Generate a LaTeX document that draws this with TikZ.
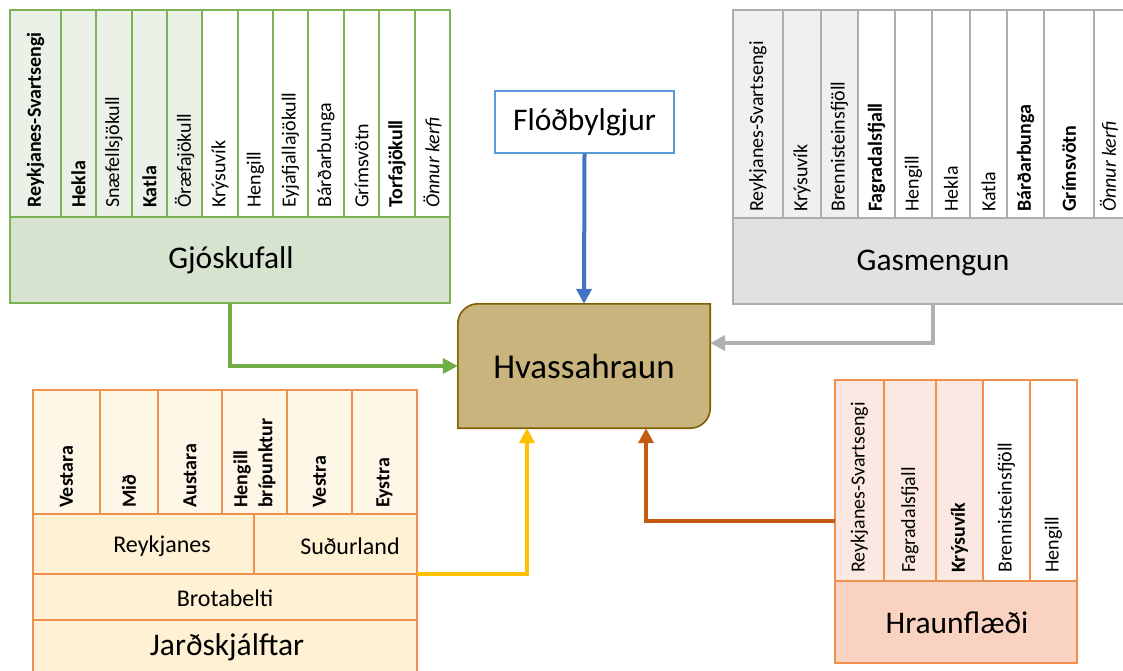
\documentclass[tikz,border=0pt]{standalone}
\usepackage{fontspec}
\setmainfont{Carlito}
\usetikzlibrary{arrows.meta}
\definecolor{gline}{HTML}{7DB356}
\definecolor{gcol}{HTML}{EBF1E7}
\definecolor{gbot}{HTML}{D6E4CF}
\definecolor{garrow}{HTML}{70AD47}
\definecolor{sline}{HTML}{ADADAD}
\definecolor{scol}{HTML}{F0F0F0}
\definecolor{sbot}{HTML}{E1E1E1}
\definecolor{sarrow}{HTML}{B0B0B0}
\definecolor{oline}{HTML}{F0904F}
\definecolor{jtop}{HTML}{FEF6E7}
\definecolor{jlow}{HTML}{FFF1D3}
\definecolor{hcol}{HTML}{FCE8E2}
\definecolor{hbot}{HTML}{F9D2C2}
\definecolor{yarrow}{HTML}{FFC000}
\definecolor{oarrow}{HTML}{C55A11}
\definecolor{hvfill}{HTML}{C9B47E}
\definecolor{hvline}{HTML}{7F6000}
\definecolor{bline}{HTML}{5B9BD5}
\definecolor{barrow}{HTML}{4472C4}
\newcommand\colfont{\fontsize{20}{25}\selectfont}
\newcommand\midfont{\fontsize{24}{28}\selectfont}
\newcommand\bigfont{\fontsize{31.5}{36}\selectfont}
\newcommand\cellbox[6]{\node[cellst,#6,minimum width={#4-#2},minimum height={#5-#3}] (#1) at (#2,#3) {};}
\begin{document}
\begin{tikzpicture}[x=1pt,y=-1pt,
  cellst/.style={draw,line width=1.4pt,inner sep=0pt,outer sep=0pt,anchor=north west},
  vlab/.style={rotate=90,anchor=west,inner sep=0pt},
  bigtxt/.style={font=\bigfont,inner sep=0pt},
  midtxt/.style={font=\midfont,inner sep=0pt},
  arr/.style={line width=4pt,-{Triangle[length=15pt,width=15pt]}}]
\clip (0,0) rectangle (1123,670);
\fill[white] (0,0) rectangle (1123,670);
% ---------- Gjoskufall
\foreach \xa/\xb/\fc/\st/\tx [count=\i] in {
10/61/gcol/\bfseries/Reykjanes-Svartsengi,
61/96/gcol/\bfseries/Hekla,
96/132/gcol//Snæfellsjökull,
132/167/gcol/\bfseries/Katla,
167/202/gcol//Öræfajökull,
202/238/white//Krýsuvík,
238/273/white//Hengill,
273/308/white//Eyjafjallajökull,
308/344/white//Bárðarbunga,
344/379/white//Grímsvötn,
379/415/white/\bfseries/Torfajökull,
415/450/white/\itshape/Önnur kerfi}
{\cellbox{gc\i}{\xa}{10}{\xb}{217}{draw=gline,fill=\fc}
 \node[vlab,font=\colfont\st] (gt\i) at ({(\xa+\xb)/2},208) {\tx};}
\cellbox{gb}{10}{217}{450}{303}{draw=gline,fill=gbot}
\node[bigtxt] (gjo) at (231,260) {Gjóskufall};
% ---------- Gasmengun
\foreach \xa/\xb/\xc/\fc/\st/\tx [count=\i] in {
733/783/758/scol//Reykjanes-Svartsengi,
783/821/802/scol//Krýsuvík,
821/858/839.5/scol//Brennisteinsfjöll,
858/895/876.5/white/\bfseries/Fagradalsfjall,
895/932/913.5/white//Hengill,
932/970/951/white//Hekla,
970/1007/988.5/white//Katla,
1007/1044/1025.5/white/\bfseries/Bárðarbunga,
1044/1094/1069/white/\bfseries/Grímsvötn,
1094/1133/1109/white/\itshape/Önnur kerfi}
{\cellbox{sc\i}{\xa}{10}{\xb}{218}{draw=sline,fill=\fc}
 \node[vlab,font=\colfont\st] (st\i) at (\xc,212) {\tx};}
\cellbox{sb}{733}{218}{1133}{304}{draw=sline,fill=sbot}
\node[bigtxt] (gas) at (933,263) {Gasmengun};
% ---------- Jardskjalftar
\foreach \xa/\xb/\tx [count=\i] in {
33/100/Vestara,
100/158/Mið,
158/222/Austara,
222/287/{Hengill\\brípunktur},
287/352/Vestra,
352/417/Eystra}
{\cellbox{jc\i}{\xa}{390}{\xb}{514}{draw=oline,fill=jtop}
 \node[vlab,font=\colfont\bfseries,align=left] (jt\i) at ({(\xa+\xb)/2},508) {\tx};}
\cellbox{jrey}{33}{514}{254}{574}{draw=oline,fill=jlow}
\cellbox{jsud}{254}{514}{417}{574}{draw=oline,fill=jlow}
\cellbox{jbro}{33}{574}{417}{620}{draw=oline,fill=jlow}
\cellbox{jjar}{33}{620}{417}{690}{draw=oline,fill=jlow}
\node[midtxt] (treyk) at (162,546) {Reykjanes};
\node[midtxt] (tsud) at (350,546) {Suðurland};
\node[midtxt] (tbro) at (225,598) {Brotabelti};
\node[bigtxt] (tjar) at (227,647) {Jarðskjálftar};
% ---------- Hraunflaedi
\foreach \xa/\xb/\fc/\st/\tx [count=\i] in {
835/884/hcol//Reykjanes-Svartsengi,
884/936/hcol//Fagradalsfjall,
936/983/hcol/\bfseries/Krýsuvík,
983/1030/white//Brennisteinsfjöll,
1030/1077/white//Hengill}
{\cellbox{hc\i}{\xa}{380}{\xb}{581}{draw=oline,fill=\fc}
 \node[vlab,font=\colfont\st] (ht\i) at ({(\xa+\xb)/2},573) {\tx};}
\cellbox{hb}{835}{581}{1077}{663}{draw=oline,fill=hbot}
\node[bigtxt] (hrf) at (957,623) {Hraunflæði};
% ---------- Flodbylgjur
\node[draw=bline,fill=white,line width=1.4pt,minimum width=179pt,minimum height=62pt,inner sep=0pt,font=\bigfont] (flo) at (584.5,122) {Flóðbylgjur};
% ---------- Hvassahraun
\node[minimum width=252pt,minimum height=124pt,inner sep=0pt] (hv) at (584,366) {};
\draw[fill=hvfill,draw=hvline,line width=1.6pt]
  (hv.south west) [rounded corners=20pt] -- (hv.north west) [sharp corners] -- (hv.north east)
  [rounded corners=20pt] -- (hv.south east) [sharp corners] -- (hv.south west) -- cycle;
\node[font=\fontsize{35}{40}\selectfont,inner sep=0pt] (hvt) at (hv.center) {Hvassahraun};
% ---------- arrows
\draw[arr,barrow] (flo.south) -- (hv.north);
\draw[arr,garrow] (gb.south) |- (hv.west);
\draw[arr,sarrow] (sb.south) |- ([yshift=23pt]hv.east);
\draw[arr,yarrow] (jsud.south east) -| ([xshift=-57pt]hv.south);
\draw[arr,oarrow] ([yshift=-40pt]hc1.west) -| ([xshift=62pt]hv.south);
\end{tikzpicture}
\end{document}
